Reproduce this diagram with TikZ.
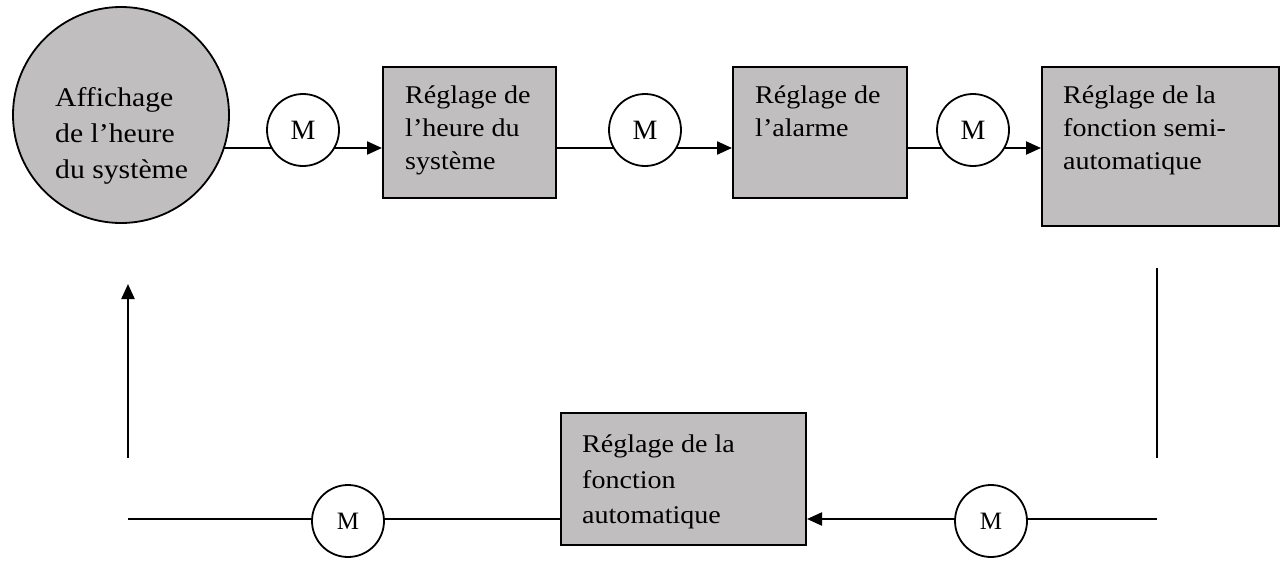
\documentclass[tikz,border=0pt]{standalone}
\usepackage{fontspec}
\setmainfont{Liberation Serif}[FakeStretch=1.1]
\newfontfamily\mfont{Liberation Serif}
\usetikzlibrary{arrows.meta,calc}
\definecolor{boxgrey}{RGB}{192,190,191}
\pgfdeclarelayer{background}
\pgfsetlayers{background,main}
\tikzset{
 stepbox/.style={draw=black, line width=2pt, fill=boxgrey, rectangle, inner sep=0pt},
 boxtext/.style={anchor=north west, inner sep=0pt, align=left, font=\fontsize{25.5}{33}\selectfont},
 mcirc/.style={draw=black, line width=1.8pt, fill=white, circle, minimum size=72pt, inner sep=0pt, font=\mfont\fontsize{28}{30}\selectfont},
 mcircs/.style={mcirc, font=\mfont\fontsize{25}{28}\selectfont},
 conn/.style={line width=2.2pt, black},
 arr/.style={conn, -{Triangle[length=15pt,width=13pt]}},
}
\begin{document}
\begin{tikzpicture}[x=1pt,y=-1pt]
\useasboundingbox (0,0) rectangle (1282,570);
% main display circle
\node[draw=black, line width=1.8pt, fill=boxgrey, circle, minimum size=216pt, inner sep=0pt] (disp) at (121,115) {};
\node[boxtext, font=\fontsize{27}{36}\selectfont] (disptext) at (55,87) {Affichage\\de l’heure\\du système};
% boxes
\node[stepbox, minimum width=173pt, minimum height=131pt] (box1) at (469.5,132.5) {};
\node[boxtext] (box1text) at (405,86) {Réglage de\\l’heure du\\système};
\node[stepbox, minimum width=174pt, minimum height=131pt] (box2) at (820,132.5) {};
\node[boxtext] (box2text) at (755,86) {Réglage de\\l’alarme};
\node[stepbox, minimum width=237pt, minimum height=159pt] (box3) at (1160.5,146.5) {};
\node[boxtext] (box3text) at (1063,86) {Réglage de la\\fonction semi-\\automatique};
\node[stepbox, minimum width=245pt, minimum height=132pt] (box4) at (683.5,479) {};
\node[boxtext, font=\fontsize{25.5}{35.5}\selectfont] (box4text) at (582,434.6) {Réglage de la\\fonction\\automatique};
% M circles
\node[mcirc] (m1) at (303,130) {M};
\node[mcirc] (m2) at (645,130) {M};
\node[mcirc] (m3) at (973,130) {M};
\node[mcircs] (m4) at (991,521) {M};
\node[mcircs] (m5) at (348,521) {M};
% free ends
\coordinate (l1) at (121,148);
\coordinate (vtop) at (1157,268);
\coordinate (vbot) at (1157,458);
\coordinate (bright) at (1157,519);
\coordinate (bleft) at (128,519);
\coordinate (aup1) at (128,458);
\coordinate (aup2) at (128,284);
\begin{pgfonlayer}{background}
\draw[arr] (l1) -- (box1.west |- l1);
\draw[arr] (box1.east |- l1) -- (box2.west |- l1);
\draw[arr] (box2.east |- l1) -- (box3.west |- l1);
\draw[arr] (bright) -- (box4.east |- bright);
\draw[conn] (box4.west |- bleft) -- (bleft);
\end{pgfonlayer}
\draw[line width=1.5pt] (vtop) -- (vbot);
\draw[arr] (aup1) -- (aup2);
\end{tikzpicture}
\end{document}
